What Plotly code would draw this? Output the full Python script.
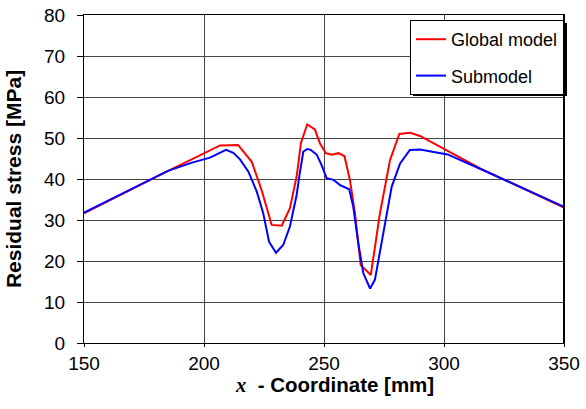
import plotly.graph_objects as go

# Global model (red)
global_x = [150, 180, 206.7, 214.2, 219.9, 224.0, 228.2, 232.4, 235.8, 238.6, 240.4, 243.0,
            246.2, 248.3, 250.8, 253.2, 256.0, 258.5, 260.8, 262.9, 265.3, 269.5, 273.3,
            277.5, 281.4, 285.8, 290, 301.5, 315, 350]
global_y = [31.6, 40.5, 48.2, 48.3, 44.2, 37.3, 28.8, 28.6, 32.9, 40.6, 48.8, 53.3,
            52.1, 48.7, 46.3, 45.9, 46.3, 45.6, 39.8, 31.6, 19.0, 16.6, 31.6,
            44.6, 51.0, 51.3, 50.5, 46.9, 42.6, 33.0]

# Submodel (blue)
sub_x = [150, 180, 185, 195, 202.5, 207, 209.2, 212.2, 215.0, 218.5, 222.0, 224.7, 227.1,
         230.0, 233.0, 235.8, 238.6, 240.0, 241.4, 243.0, 244.5, 247.0, 249.0, 251.1, 253.9,
         256.7, 260.5, 262.2, 264.3, 266.4, 269.2, 271.2, 274.0, 278.2, 281.7, 285.8,
         290, 301.5, 315, 350]
sub_y = [31.8, 40.5, 42.0, 44.0, 45.2, 46.5, 47.1, 46.4, 44.8, 41.8, 36.9, 31.6, 24.7,
         22.0, 23.9, 28.4, 36.1, 41.8, 46.7, 47.3, 47.1, 45.9, 43.4, 40.2, 39.8,
         38.5, 37.5, 33.2, 24.3, 17.0, 13.3, 15.4, 24.3, 38.1, 43.8, 47.1,
         47.2, 46.0, 42.5, 33.2]

x_title = ("<i><span style='font-family:Liberation Serif, Times New Roman, serif;font-weight:bold'>x</span></i>"
           "<b>  - Coordinate [mm]</b>")
y_title = "<b>Residual stress [MPa]</b>"

FONT = "Liberation Sans, Arial, sans-serif"

# plot area in pixels: left 84, right 564, top 15, bottom 343
def px_x(p):
    return (p - 84) / 480.0

def px_y(p):
    return (343 - p) / 328.0

fig = go.Figure()
fig.add_trace(go.Scatter(x=global_x, y=global_y, mode="lines", name="Global model",
                         line=dict(color="#FF0000", width=2), legendgroup="a"))
fig.add_trace(go.Scatter(x=sub_x, y=sub_y, mode="lines", name="Submodel",
                         line=dict(color="#0000FF", width=2), legendgroup="b"))

fig.update_layout(
    width=586, height=409,
    margin=dict(l=84, r=22, t=15, b=66, autoexpand=False),
    paper_bgcolor="white", plot_bgcolor="white",
    font=dict(family=FONT, size=19, color="black"),
    showlegend=True,
    legend=dict(x=1.0, y=px_y(20), xanchor="right", yanchor="top",
                bgcolor="white", bordercolor="black", borderwidth=1,
                font=dict(size=18), traceorder="grouped", tracegroupgap=10),
    shapes=[
        # legend drop shadow
        dict(type="rect", xref="paper", yref="paper",
             x0=px_x(413), x1=px_x(567), y0=px_y(96), y1=px_y(23),
             fillcolor="black", line=dict(width=0), layer="above"),
        # heavier right frame
        dict(type="line", xref="paper", yref="paper", x0=1, x1=1, y0=0, y1=1,
             line=dict(color="black", width=2), layer="above"),
    ],
    annotations=[
        dict(text=x_title, xref="paper", yref="paper", x=px_x(334), y=px_y(384),
             xanchor="center", yanchor="middle", showarrow=False, font=dict(size=20.5)),
    ],
)
fig.update_xaxes(range=[150, 350], dtick=50, tick0=150, automargin=False,
                 showgrid=True, gridcolor="#444", gridwidth=1,
                 showline=True, linecolor="black", linewidth=1, mirror=True,
                 ticks="outside", ticklen=3, tickcolor="black",
                 zeroline=False)
fig.update_yaxes(range=[0, 80], dtick=10, automargin=False,
                 showgrid=True, gridcolor="#444", gridwidth=1,
                 showline=True, linecolor="black", linewidth=1, mirror=True,
                 ticks="outside", ticklen=6, tickcolor="black",
                 zeroline=False, ticklabelstandoff=8,
                 title=dict(text=y_title, standoff=16, font=dict(size=21)))

fig.write_html("out.html")
